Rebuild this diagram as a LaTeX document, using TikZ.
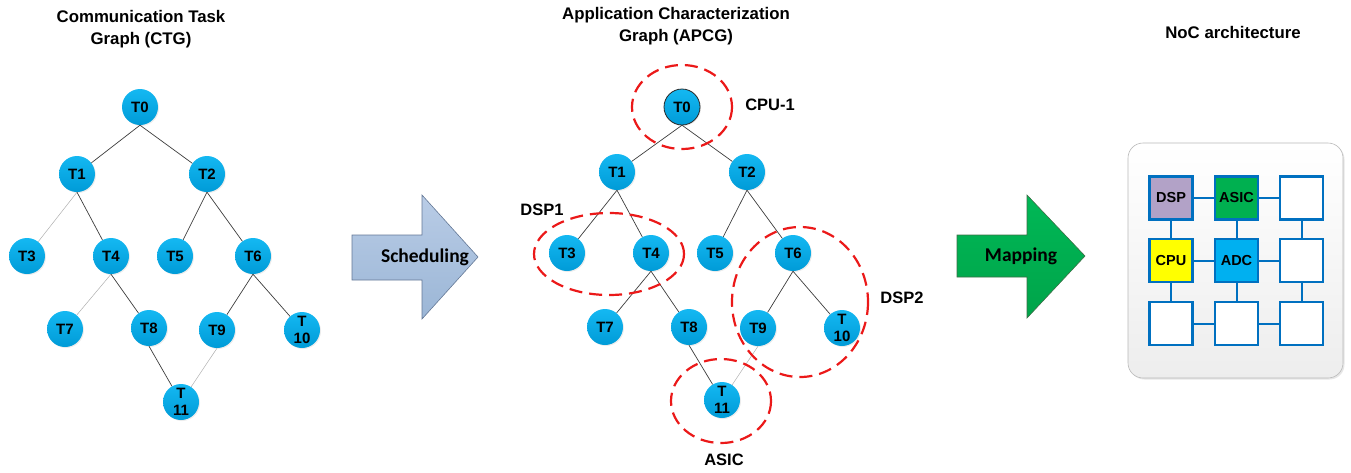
\documentclass[tikz,border=0pt]{standalone}
\usepackage{fontspec}
\setmainfont{Liberation Sans}
\newfontfamily\calfont{Carlito}
\usetikzlibrary{shadows}
\definecolor{ntop}{RGB}{20,184,242}
\definecolor{nbot}{RGB}{0,155,215}
\definecolor{edgedark}{RGB}{60,60,60}
\definecolor{edgelight}{RGB}{175,175,175}
\definecolor{grpred}{RGB}{235,25,25}
\definecolor{tileblue}{RGB}{0,112,192}
\definecolor{dspc}{RGB}{178,162,199}
\definecolor{asicc}{RGB}{0,176,80}
\definecolor{cpuc}{RGB}{255,255,0}
\definecolor{adcc}{RGB}{0,176,240}
\definecolor{schtop}{RGB}{185,204,230}
\definecolor{schbot}{RGB}{155,182,214}
\definecolor{schline}{RGB}{100,120,150}
\definecolor{maptop}{RGB}{0,184,86}
\definecolor{mapbot}{RGB}{0,164,74}
\definecolor{mapline}{RGB}{60,110,70}
\definecolor{t0line}{RGB}{40,40,40}
\begin{document}
\begin{tikzpicture}[x=1pt,y=-1pt,
  task/.style={circle, minimum size=36pt, inner sep=0pt, top color=ntop, bottom color=nbot,
    drop shadow={shadow xshift=1pt, shadow yshift=-1pt, opacity=0.15},
    font=\bfseries\fontsize{15}{17}\selectfont, align=center},
  dk/.style={draw=edgedark, line width=0.7pt},
  lt/.style={draw=edgelight, line width=0.5pt},
  grp/.style={draw=grpred, line width=2.2pt, dash pattern=on 13pt off 7pt},
  title/.style={font=\bfseries\fontsize{16.8}{22}\selectfont, align=center},
  glabel/.style={font=\bfseries\fontsize{16.5}{19}\selectfont},
  tile/.style={draw=tileblue, line width=2.2pt, minimum size=43pt, inner sep=0pt, fill=white,
    font=\bfseries\fontsize{14.5}{16}\selectfont},
  link/.style={draw=tileblue, line width=2pt},
  arrtext/.style={font=\calfont\bfseries\fontsize{19.5}{22}\selectfont}
]
\useasboundingbox (0,0) rectangle (1351,472);

% ---------- titles ----------
\node[title] (t1) at (141,29) {Communication Task\\Graph (CTG)};
\node[title] (t2) at (676,26) {Application Characterization\\Graph (APCG)};
\node[title] (t3) at (1233,32) {NoC architecture};

% ---------- CTG ----------
\node[task] (c0) at (140,107) {T0};
\node[task] (c1) at (77,174) {T1};
\node[task] (c2) at (207,174) {T2};
\node[task] (c3) at (27,256) {T3};
\node[task] (c4) at (111,256) {T4};
\node[task] (c5) at (175,256) {T5};
\node[task] (c6) at (253,256) {T6};
\node[task] (c7) at (65,329) {T7};
\node[task] (c8) at (149,328) {T8};
\node[task] (c9) at (217,330) {T9};
\node[task] (c10) at (302,330) {T\\10};
\node[task] (c11) at (181,402) {T\\11};
\path[dk] (c0.south) -- (c1);
\path[dk] (c0.south) -- (c2);
\path[lt] (c1.south) -- (c3);
\path[dk] (c1.south) -- (c4);
\path[dk] (c2.south) -- (c5);
\path[dk] (c2.south) -- (c6);
\path[lt] (c4.south) -- (c7);
\path[dk] (c4.south) -- (c8);
\path[dk] (c6.south) -- (c9);
\path[dk] (c6.south) -- (c10);
\path[dk] (c8.south) -- (c11);
\path[lt] (c9.south) -- (c11);

% ---------- Scheduling arrow ----------
\path[draw=schline, line width=0.6pt, top color=schtop, bottom color=schbot]
  (352,235) -- (422,235) -- (422,195) -- (478,257) -- (422,319) -- (422,280) -- (352,280) -- cycle;
\node[arrtext] (sch) at (425,257) {Scheduling};

% ---------- APCG ----------
\node[task] (a0) at (682,107) {T0};
\node[task] (a1) at (617,172) {T1};
\node[task] (a2) at (747,172) {T2};
\node[task] (a3) at (567,253) {T3};
\node[task] (a4) at (651,253) {T4};
\node[task] (a5) at (715,253) {T5};
\node[task] (a6) at (793,253) {T6};
\node[task] (a7) at (605,327) {T7};
\node[task] (a8) at (689,327) {T8};
\node[task] (a9) at (758,328) {T9};
\node[task] (a10) at (842,328) {T\\10};
\node[task] (a11) at (722,400) {T\\11};
\draw[draw=t0line, line width=0.8pt] (a0.center) circle (18pt);
\path[dk] (a0.south) -- (a1);
\path[dk] (a0.south) -- (a2);
\path[dk] (a1.south) -- (a3);
\path[dk] (a1.south) -- (a4);
\path[dk] (a2.south) -- (a5);
\path[dk] (a2.south) -- (a6);
\path[dk] (a4.south) -- (a7);
\path[dk] (a4.south) -- (a8);
\path[dk] (a6.south) -- (a9);
\path[dk] (a6.south) -- (a10);
\path[dk] (a8.south) -- (a11);
\path[lt] (a9.south) -- (a11);

% groups
\draw[grp] (682,107) ellipse [x radius=50, y radius=42];
\draw[grp] (609,254) ellipse [x radius=75, y radius=41];
\draw[grp] (800,302) ellipse [x radius=68, y radius=75];
\draw[grp] (721,401) ellipse [x radius=50, y radius=42];
\node[glabel] (lcpu) at (770,105) {CPU-1};
\node[glabel] (ldsp1) at (542,210) {DSP1};
\node[glabel] (ldsp2) at (902,298) {DSP2};
\node[glabel] (lasic) at (724,460) {ASIC};

% ---------- Mapping arrow ----------
\path[draw=mapline, line width=0.6pt, top color=maptop, bottom color=mapbot]
  (957,235) -- (1027,235) -- (1027,195) -- (1085,256) -- (1027,318) -- (1027,277) -- (957,277) -- cycle;
\node[arrtext] (map) at (1021,256) {Mapping};

% ---------- NoC ----------
\node[draw=gray!55, line width=0.6pt, rounded corners=15pt, minimum width=215pt, minimum height=235pt,
  top color=white, bottom color=gray!14, drop shadow={shadow xshift=1.5pt, shadow yshift=-1.5pt, opacity=0.2}]
  (noc) at (1235.5,260.5) {};
\node[tile, fill=dspc] (n11) at (1171,198) {DSP};
\node[tile, fill=asicc] (n12) at (1236.5,198) {ASIC};
\node[tile] (n13) at (1301.5,198) {};
\node[tile, fill=cpuc] (n21) at (1171,260.5) {CPU};
\node[tile, fill=adcc] (n22) at (1236.5,260.5) {ADC};
\node[tile] (n23) at (1301.5,260.5) {};
\node[tile] (n31) at (1171,323.5) {};
\node[tile] (n32) at (1236.5,323.5) {};
\node[tile] (n33) at (1301.5,323.5) {};
\path[link] (n11) -- (n12);
\path[link] (n12) -- (n13);
\path[link] (n21) -- (n22);
\path[link] (n22) -- (n23);
\path[link] (n31) -- (n32);
\path[link] (n32) -- (n33);
\path[link] (n11) -- (n21);
\path[link] (n21) -- (n31);
\path[link] (n12) -- (n22);
\path[link] (n22) -- (n32);
\path[link] (n13) -- (n23);
\path[link] (n23) -- (n33);
\end{tikzpicture}
\end{document}
